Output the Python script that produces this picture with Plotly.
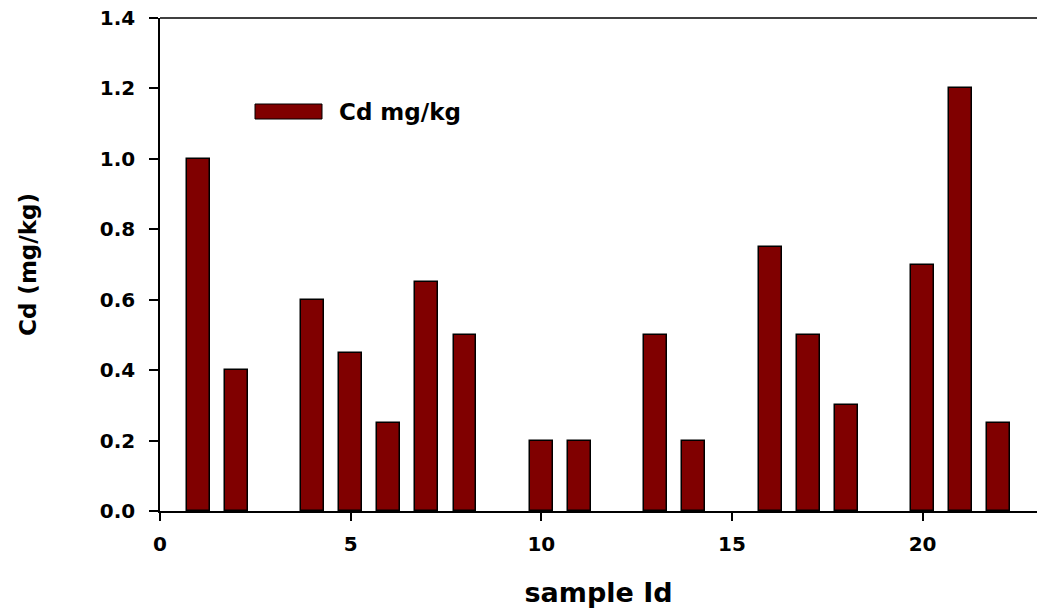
import plotly.graph_objects as go

sample_id = list(range(1, 23))
cd_values = [1.0, 0.4, 0.0, 0.6, 0.45, 0.25, 0.65, 0.5, 0.0, 0.2, 0.2, 0.0,
             0.5, 0.2, 0.0, 0.75, 0.5, 0.3, 0.0, 0.7, 1.2, 0.25]
x_ticks = [0, 5, 10, 15, 20]
y_ticks = [0.0, 0.2, 0.4, 0.6, 0.8, 1.0, 1.2, 1.4]

FONT = "DejaVu Sans, Arial, sans-serif"
BAR_COLOR = "#800000"

fig = go.Figure()
fig.add_trace(go.Bar(
    x=[s for s, v in zip(sample_id, cd_values) if v > 0],
    y=[v for v in cd_values if v > 0],
    width=0.6,
    marker=dict(color=BAR_COLOR, line=dict(color="black", width=1.5)),
    name="Cd mg/kg",
    showlegend=False,
))

fig.update_layout(
    width=1037, height=614,
    margin=dict(l=160, r=0, t=18, b=103),
    plot_bgcolor="white", paper_bgcolor="white",
    font=dict(family=FONT, color="black"),
    bargap=0,
)

fig.update_xaxes(
    range=[0, 23], tickvals=x_ticks, ticktext=[str(t) for t in x_ticks],
    showline=True, linecolor="black", linewidth=1.5,
    ticks="outside", ticklen=8, tickwidth=1.5, tickcolor="black",
    showgrid=False, zeroline=False,
    tickfont=dict(size=20, family=FONT, weight="bold"),
    ticklabelstandoff=6,
    title=dict(text="<b>sample Id</b>", font=dict(size=27, family=FONT), standoff=28),
)
fig.update_yaxes(
    range=[0, 1.4], tickvals=y_ticks, ticktext=[f"{t:.1f}" for t in y_ticks],
    showline=True, linecolor="black", linewidth=1.5,
    ticks="outside", ticklen=9, tickwidth=1.5, tickcolor="black",
    showgrid=False, zeroline=False,
    tickfont=dict(size=20, family=FONT, weight="bold"),
    ticklabelstandoff=10,
    title=dict(text="<b>Cd (mg/kg)</b>", font=dict(size=23, family=FONT), standoff=57),
)

# top frame line
fig.add_shape(type="line", xref="paper", yref="paper", x0=0, x1=1, y0=1, y1=1,
              line=dict(color="black", width=1.5))

# legend drawn as patch + label
fig.add_shape(type="rect", xref="paper", yref="paper",
              x0=(255 - 160) / 877, x1=(322 - 160) / 877,
              y0=(511 - 119) / 493, y1=(511 - 104) / 493,
              fillcolor=BAR_COLOR, line=dict(color="black", width=1))
fig.add_annotation(xref="paper", yref="paper", x=(337 - 160) / 877, y=(511 - 111.5) / 493,
                   xanchor="left", yanchor="middle", showarrow=False,
                   text="<b>Cd mg/kg</b>", font=dict(size=23, family=FONT, color="black"))

fig.write_html("out.html")
